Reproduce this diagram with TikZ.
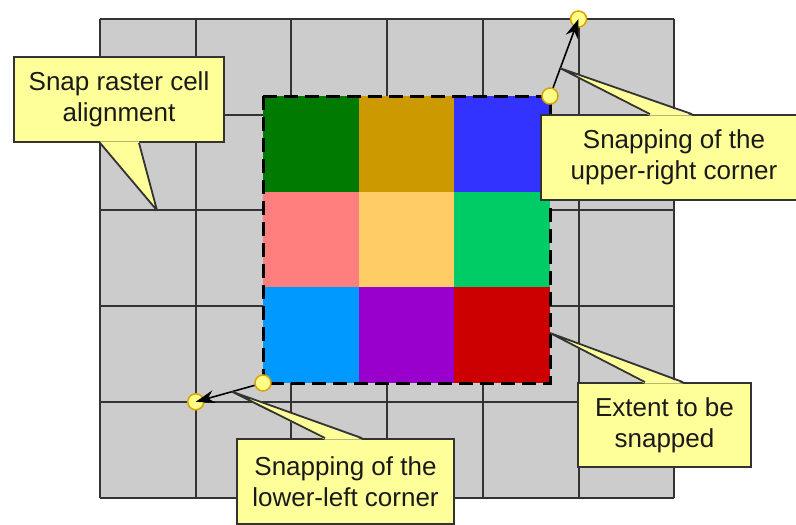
\documentclass[tikz,border=0pt]{standalone}
\usepackage{fontspec}
\setmainfont{Liberation Sans}
\usepackage{tikz}
\usetikzlibrary{arrows.meta,calc}
\definecolor{rastergrey}{HTML}{CCCCCC}
\definecolor{rasterline}{HTML}{333333}
\definecolor{notefill}{HTML}{FFFF99}
\definecolor{noteline}{HTML}{333333}
\definecolor{notetext}{HTML}{1A1A1A}
\definecolor{dotfill}{HTML}{FFFF88}
\definecolor{dotline}{HTML}{D9A400}
\definecolor{extA}{HTML}{007A00}
\definecolor{extB}{HTML}{CC9900}
\definecolor{extC}{HTML}{3333FF}
\definecolor{extD}{HTML}{FF7F7F}
\definecolor{extE}{HTML}{FFCC66}
\definecolor{extF}{HTML}{00CC66}
\definecolor{extG}{HTML}{0099FF}
\definecolor{extH}{HTML}{9900CC}
\definecolor{extI}{HTML}{CC0000}
\newcommand{\cellsize}{95.7}

\begin{document}
\begin{tikzpicture}[x=1pt, y=-1pt,
    note/.style={fill=notefill, draw=noteline, line width=1.8pt, align=center,
      minimum height=85pt, inner sep=0pt, text=notetext,
      font=\fontsize{26}{31}\selectfont},
    notepointer/.style={draw=noteline, line width=1.8pt, line join=round},
    snapdot/.style={circle, minimum size=16pt, inner sep=0pt, fill=dotfill,
      draw=dotline, line width=1.5pt},
    snaparrow/.style={line width=1.6pt, black, -{Stealth[length=19pt,width=13pt]}}]
  \useasboundingbox (0,0) rectangle (796,525);
  \clip (0,0) rectangle (796,525);

  % snap raster
  \fill[rastergrey] (100,19) rectangle (674.2,497.5);
  \foreach \i in {0,...,6}
    \draw[rasterline, line width=2pt] ({100+\i*\cellsize},19) -- ({100+\i*\cellsize},497.5);
  \foreach \j in {0,...,5}
    \draw[rasterline, line width=2pt] (100,{19+\j*\cellsize}) -- (674.2,{19+\j*\cellsize});

  % extent to be snapped
  \foreach \col/\row/\shade in {0/0/extA, 1/0/extB, 2/0/extC,
                                0/1/extD, 1/1/extE, 2/1/extF,
                                0/2/extG, 1/2/extH, 2/2/extI}
    \fill[\shade] ({263+\col*\cellsize},{96+\row*\cellsize}) rectangle +(\cellsize,\cellsize);
  \draw[black, line width=3pt, dash pattern=on 14pt off 7pt] (263,96) rectangle (550.1,383.1);

  % corners and their snapping
  \node[snapdot] (urext) at (550,96) {};
  \node[snapdot] (urgrid) at (578.5,19) {};
  \node[snapdot] (llext) at (263,383) {};
  \node[snapdot] (llgrid) at (195.7,401.8) {};
  \draw[snaparrow] (urext) -- (urgrid.center);
  \draw[snaparrow] (llext) -- (llgrid.center);

  \coordinate (urtip) at ($(urext.center)!0.36!(urgrid.center)$);
  \coordinate (lltip) at ($(llext.center)!0.46!(llgrid.center)$);
  \coordinate (celltip) at (157,210.4);
  \coordinate (extenttip) at (550,333);

  % callouts
  \node[note, minimum width=210pt] (cellnote) at (119,99.5) {Snap raster cell\\alignment};
  \fill[notefill] ([xshift=-19pt,yshift=1.5pt]cellnote.south) -- (celltip)
    -- ([xshift=20pt,yshift=1.5pt]cellnote.south) -- cycle;
  \draw[notepointer] ([xshift=-19pt]cellnote.south) -- (celltip) -- ([xshift=20pt]cellnote.south);

  \node[note, minimum width=266pt] (urnote) at (674,157.5) {Snapping of the\\upper-right corner};
  \fill[notefill] ([xshift=-24pt,yshift=-1.5pt]urnote.north) -- (urtip)
    -- ([xshift=18pt,yshift=-1.5pt]urnote.north) -- cycle;
  \draw[notepointer] ([xshift=-24pt]urnote.north) -- (urtip) -- ([xshift=18pt]urnote.north);

  \node[note, minimum width=173pt, minimum height=84pt] (extentnote) at (664.5,425) {Extent to be\\snapped};
  \fill[notefill] ([xshift=-19.5pt,yshift=-1.5pt]extentnote.north) -- (extenttip)
    -- ([xshift=18.5pt,yshift=-1.5pt]extentnote.north) -- cycle;
  \draw[notepointer] ([xshift=-19.5pt]extentnote.north) -- (extenttip) -- ([xshift=18.5pt]extentnote.north);

  \node[note, minimum width=217pt] (llnote) at (345.5,481.5) {Snapping of the\\lower-left corner};
  \fill[notefill] ([xshift=-20.5pt,yshift=-1.5pt]llnote.north) -- (lltip)
    -- ([xshift=16.5pt,yshift=-1.5pt]llnote.north) -- cycle;
  \draw[notepointer] ([xshift=-20.5pt]llnote.north) -- (lltip) -- ([xshift=16.5pt]llnote.north);
\end{tikzpicture}
\end{document}
